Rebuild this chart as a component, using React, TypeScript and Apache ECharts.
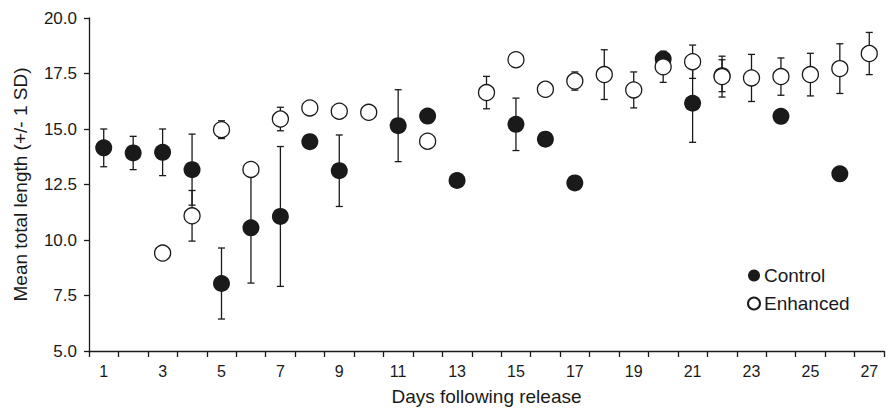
import React, { useEffect, useRef } from "react";
import * as echarts from "echarts";

const days = ["1","2","3","4","5","6","7","8","9","10","11","12","13","14","15","16","17","18","19","20","21","22","23","24","25","26","27"];
const controlMean: (number | null)[] = [14.15, 13.92, 13.95, 13.17, 8.04, 10.55, 11.06, 14.43, 13.12, null, 15.15, 15.58, 12.68, null, 15.21, 14.54, 12.57, null, null, 18.15, 16.16, 17.4, null, 15.57, null, 12.98, null];
const controlSD: (number | null)[] = [0.85, 0.75, 1.05, 1.6, 1.6, 2.49, 3.15, null, 1.61, null, 1.62, null, null, null, 1.18, null, null, null, null, null, 1.76, 0.72, null, null, null, null, null];
const enhancedMean: (number | null)[] = [null, null, 9.41, 11.09, 14.97, 13.18, 15.45, 15.95, 15.8, 15.75, null, 14.45, null, 16.64, 18.12, 16.79, 17.16, 17.45, 16.76, 17.8, 18.03, 17.36, 17.3, 17.36, 17.45, 17.72, 18.4];
const enhancedSD: (number | null)[] = [null, null, null, 1.14, 0.4, null, 0.53, null, null, null, null, null, null, 0.73, null, null, 0.41, 1.12, 0.81, 0.7, 0.75, 0.92, 1.06, 0.84, 0.96, 1.12, 0.95];
const yTicks = [5, 7.5, 10, 12.5, 15, 17.5, 20];

const FONT = "'Liberation Sans', Arial, sans-serif";
const INK = "#1a1a1a";

function errData(mean: (number | null)[], sd: (number | null)[]) {
  const out: number[][] = [];
  mean.forEach((m, i) => {
    const s = sd[i];
    if (m != null && s != null) out.push([i, m - s, m + s]);
  });
  return out;
}

function pointData(mean: (number | null)[]) {
  const out: number[][] = [];
  mean.forEach((m, i) => {
    if (m != null) out.push([i, m]);
  });
  return out;
}

function renderErr(params: any, api: any) {
  const x = api.value(0);
  const lo = api.coord([x, api.value(1)]);
  const hi = api.coord([x, api.value(2)]);
  const w = 3.5;
  const style = { stroke: INK, lineWidth: 1.3, fill: "none" };
  return {
    type: "group",
    children: [
      { type: "line", shape: { x1: lo[0], y1: lo[1], x2: hi[0], y2: hi[1] }, style },
      { type: "line", shape: { x1: lo[0] - w, y1: lo[1], x2: lo[0] + w, y2: lo[1] }, style },
      { type: "line", shape: { x1: hi[0] - w, y1: hi[1], x2: hi[0] + w, y2: hi[1] }, style },
    ],
  };
}

export default function App() {
  const ref = useRef<HTMLDivElement>(null);
  useEffect(() => {
    if (!ref.current) return;
    const chart = echarts.init(ref.current, undefined, { renderer: "svg" });
    chart.setOption({
      animation: false,
      backgroundColor: "#ffffff",
      textStyle: { fontFamily: FONT },
      grid: { left: 89, right: 6, top: 18, bottom: 58, containLabel: false },
      legend: {
        orient: "vertical",
        left: 742,
        top: 261,
        itemWidth: 12,
        itemHeight: 12,
        itemGap: 9,
        icon: "circle",
        data: ["Control", "Enhanced"],
        textStyle: { fontFamily: FONT, fontSize: 19, color: INK, padding: [0, 0, 0, -1] },
      },
      xAxis: {
        type: "category",
        data: days,
        boundaryGap: true,
        name: "Days following release",
        nameLocation: "middle",
        nameGap: 36,
        nameTextStyle: { fontFamily: FONT, fontSize: 19, color: INK },
        axisLine: { lineStyle: { color: INK, width: 1.3 } },
        axisTick: { show: true, interval: 0, length: 6, lineStyle: { color: INK, width: 1.3 } },
        axisLabel: { interval: 1, fontFamily: FONT, fontSize: 16, color: INK, margin: 12 },
        splitLine: { show: false },
      },
      yAxis: {
        type: "value",
        min: yTicks[0],
        max: yTicks[yTicks.length - 1],
        interval: 2.5,
        name: "Mean total length (+/- 1 SD)",
        nameLocation: "middle",
        nameGap: 59,
        nameTextStyle: { fontFamily: FONT, fontSize: 19, color: INK },
        axisLine: { show: true, lineStyle: { color: INK, width: 1.3 } },
        axisTick: { show: true, length: 5, lineStyle: { color: INK, width: 1.3 } },
        axisLabel: { fontFamily: FONT, fontSize: 17, color: INK, margin: 12, formatter: (v: number) => v.toFixed(1) },
        splitLine: { show: false },
      },
      series: [
        {
          name: "ControlErr",
          type: "custom",
          renderItem: renderErr,
          data: errData(controlMean, controlSD),
          encode: { x: 0, y: [1, 2] },
          silent: true,
        },
        {
          name: "Control",
          type: "scatter",
          data: pointData(controlMean),
          symbol: "circle",
          symbolSize: 17,
          itemStyle: { color: INK, opacity: 1 },
        },
        {
          name: "EnhancedErr",
          type: "custom",
          renderItem: renderErr,
          data: errData(enhancedMean, enhancedSD),
          encode: { x: 0, y: [1, 2] },
          silent: true,
        },
        {
          name: "Enhanced",
          type: "scatter",
          data: pointData(enhancedMean),
          symbol: "circle",
          symbolSize: 16,
          itemStyle: { color: "#ffffff", borderColor: INK, borderWidth: 1.3, opacity: 1 },
        },
      ],
    });
    return () => chart.dispose();
  }, []);
  return <div ref={ref} style={{ position: "fixed", left: 0, top: 0, width: 890, height: 411 }} />;
}
